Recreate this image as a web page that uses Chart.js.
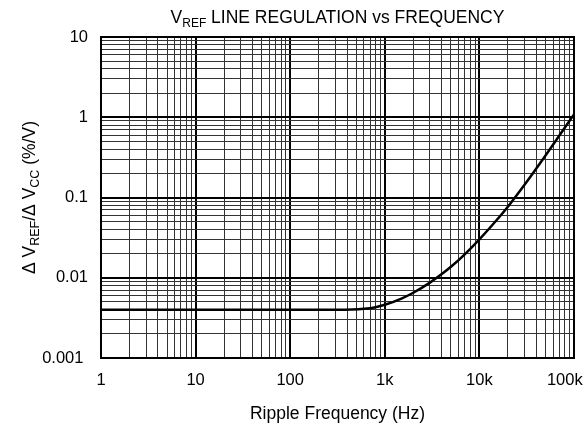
<!DOCTYPE html>
<html>
<head>
<meta charset="utf-8">
<script src="https://cdn.jsdelivr.net/npm/chart.js@4/dist/chart.umd.min.js"></script>
<style>
  html, body { margin: 0; padding: 0; background: #fff; }
  #wrap { width: 584px; height: 426px; }
</style>
</head>
<body>
<div id="wrap"><canvas id="c" width="584" height="426"></canvas></div>
<script>
// ---- data ----
const freqHz = [1, 10, 100, 300, 450, 600, 800, 1000, 1500, 2000, 3000, 4000, 5000, 7000, 10000, 15000, 20000, 30000, 50000, 70000, 100000];
const lineReg = [0.004, 0.004, 0.004, 0.004, 0.00402, 0.0041, 0.0043, 0.0046, 0.0055, 0.0065, 0.0087, 0.0111, 0.0137, 0.0196, 0.0301, 0.0513, 0.0768, 0.144, 0.334, 0.592, 1.086];

const xDecades = [1, 10, 100, 1000, 10000, 100000];
const xTickLabels = ['1', '10', '100', '1k', '10k', '100k    '];
const yDecades = [0.001, 0.01, 0.1, 1, 10];
const yTickLabels = ['0.001 ', '0.01', '0.1', '1', '10'];
const minorMultipliers = [1, 2, 3, 4, 5, 6, 7, 8, 9];

const titleParts = [{ t: 'V' }, { t: 'REF', sub: true }, { t: ' LINE REGULATION vs FREQUENCY' }];
const xTitleParts = [{ t: 'Ripple Frequency (Hz)' }];
const yTitleParts = [{ t: '\u0394 V' }, { t: 'REF', sub: true }, { t: '/\u0394 V' }, { t: 'CC', sub: true }, { t: ' (%/V)' }];

// ---- helpers ----
const FONT = "'Liberation Sans', Arial, Helvetica, sans-serif";
function gridValues(decades) {
  const out = [];
  for (let i = 0; i < decades.length - 1; i++) {
    minorMultipliers.forEach(m => out.push(+(decades[i] * m).toPrecision(6)));
  }
  out.push(decades[decades.length - 1]);
  return out;
}
const xGrid = gridValues(xDecades);
const yGrid = gridValues(yDecades);
function isDecade(v, decades) {
  return decades.some(d => Math.abs(v - d) / d < 1e-6);
}
function labelFor(v, decades, labels) {
  const i = decades.findIndex(d => Math.abs(v - d) / d < 1e-6);
  return i >= 0 ? labels[i] : '';
}

function drawRich(ctx, parts, cx, baseline, size, subSize, subDrop) {
  let w = 0;
  parts.forEach(p => {
    ctx.font = (p.sub ? subSize : size) + 'px ' + FONT;
    p.w = ctx.measureText(p.t).width;
    w += p.w;
  });
  let x = cx - w / 2;
  ctx.textAlign = 'left';
  ctx.textBaseline = 'alphabetic';
  parts.forEach(p => {
    ctx.font = (p.sub ? subSize : size) + 'px ' + FONT;
    ctx.fillText(p.t, x, baseline + (p.sub ? subDrop : 0));
    x += p.w;
  });
}

const textPlugin = {
  id: 'textPlugin',
  afterDraw(chart) {
    const { ctx, chartArea } = chart;
    const ca = chartArea;
    ctx.save();
    ctx.strokeStyle = '#000';
    ctx.lineWidth = 2;
    ctx.strokeRect(ca.left, ca.top, ca.right - ca.left, ca.bottom - ca.top);
    ctx.fillStyle = '#000';
    const cx = (ca.left + ca.right) / 2;
    const cy = (ca.top + ca.bottom) / 2;
    drawRich(ctx, titleParts, cx, 22.7, 17.5, 12, 4);
    drawRich(ctx, xTitleParts, cx, 419, 17.5, 12, 4);
    ctx.translate(35, cy);
    ctx.rotate(-Math.PI / 2);
    drawRich(ctx, yTitleParts, 0, 0, 17.5, 12.5, 4);
    ctx.restore();
  }
};

const ctx = document.getElementById('c').getContext('2d');
new Chart(ctx, {
  type: 'line',
  data: {
    datasets: [{
      data: freqHz.map((f, i) => ({ x: f, y: lineReg[i] })),
      borderColor: '#000',
      borderWidth: 2.5,
      pointRadius: 0,
      fill: false,
      cubicInterpolationMode: 'monotone'
    }]
  },
  options: {
    responsive: false,
    animation: false,
    devicePixelRatio: 1,
    layout: { padding: { top: 37, right: 10, left: 0, bottom: 0 } },
    plugins: { legend: { display: false }, title: { display: false }, tooltip: { enabled: false } },
    scales: {
      x: {
        type: 'logarithmic',
        min: 1,
        max: 100000,
        afterBuildTicks: s => { s.ticks = xGrid.map(v => ({ value: v })); },
        afterFit: s => { s.height = 68; s.paddingLeft = 0; s.paddingRight = 0; },
        ticks: {
          autoSkip: false,
          maxRotation: 0,
          minRotation: 0,
          padding: 13,
          color: '#000',
          font: { family: FONT, size: 16.5 },
          callback: v => labelFor(v, xDecades, xTickLabels)
        },
        grid: {
          drawTicks: false,
          color: c => (c.tick && isDecade(c.tick.value, xDecades)) ? '#000' : '#333',
          lineWidth: c => (c.tick && isDecade(c.tick.value, xDecades)) ? 2 : 1
        },
        border: { display: false }
      },
      y: {
        type: 'logarithmic',
        min: 0.001,
        max: 10,
        afterBuildTicks: s => { s.ticks = yGrid.map(v => ({ value: v })); },
        afterFit: s => { s.width = 101; s.paddingTop = 0; s.paddingBottom = 0; },
        ticks: {
          autoSkip: false,
          padding: 13,
          color: '#000',
          font: { family: FONT, size: 16.5 },
          callback: v => labelFor(v, yDecades, yTickLabels)
        },
        grid: {
          drawTicks: false,
          color: c => (c.tick && isDecade(c.tick.value, yDecades)) ? '#000' : '#333',
          lineWidth: c => (c.tick && isDecade(c.tick.value, yDecades)) ? 2 : 1
        },
        border: { display: false }
      }
    }
  },
  plugins: [textPlugin]
});
</script>
</body>
</html>
